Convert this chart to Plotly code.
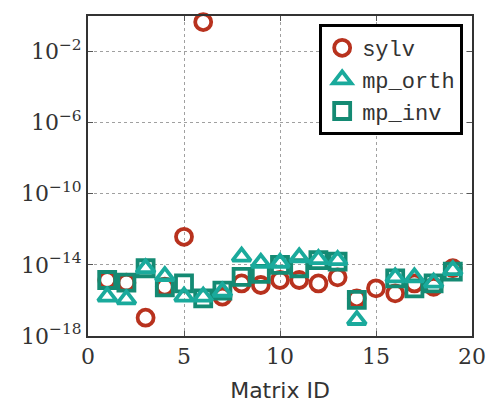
import plotly.graph_objects as go

# Matrix IDs and residual errors (log10 values) per method
matrix_id = list(range(1, 20))
ids_no15 = [i for i in matrix_id if i != 15]

sylv_log = [-14.85, -15.0, -16.97, -15.23, -12.42, -0.34, -15.79, -15.04, -15.13,
            -14.85, -14.85, -15.04, -14.70, -15.88, -15.32, -15.6, -15.04, -15.23, -14.19]
mp_orth_log = [-15.79, -15.94, -14.19, -14.63, -15.79, -15.79, -15.51, -13.54, -13.88,
               -13.88, -13.57, -13.68, -13.73, -17.1, -14.70, -14.70, -15.0, -14.29]
mp_inv_log = [-14.85, -15.0, -14.19, -15.27, -15.04, -15.88, -15.45, -14.67, -14.51,
              -14.0, -14.19, -13.73, -13.82, -15.97, -14.76, -15.32, -15.04, -14.38]

sylv = [10 ** v for v in sylv_log]
mp_orth = [10 ** v for v in mp_orth_log]
mp_inv = [10 ** v for v in mp_inv_log]

y_tick_exp = [-18, -14, -10, -6, -2]
x_ticks = [0, 5, 10, 15, 20]

RED = "#B8321E"
TEAL = "#1AAA9C"
GREEN = "#148A73"

fig = go.Figure()
fig.add_trace(go.Scatter(
    x=matrix_id, y=sylv, mode="markers", name="sylv", legendrank=1,
    cliponaxis=False,
    marker=dict(symbol="circle-open", size=16, color=RED, line=dict(width=3.8, color=RED)),
))
fig.add_trace(go.Scatter(
    x=ids_no15, y=mp_inv, mode="markers", name="mp_inv", legendrank=3,
    cliponaxis=False,
    marker=dict(symbol="square-open", size=16, color=GREEN, line=dict(width=3.8, color=GREEN)),
))
fig.add_trace(go.Scatter(
    x=ids_no15, y=mp_orth, mode="markers", name="mp_orth", legendrank=2,
    cliponaxis=False,
    marker=dict(symbol="triangle-up-open", size=16, color=TEAL, line=dict(width=3.8, color=TEAL)),
))

axis_common = dict(
    showline=True, linecolor="#333333", linewidth=2, mirror="ticks",
    ticks="inside", ticklen=5, tickcolor="#555555", tickwidth=1,
    showgrid=True, gridcolor="#a0a0a0", griddash="dot", gridwidth=1.3,
    zeroline=False, automargin=False,
    tickfont=dict(family="DejaVu Serif", size=22, color="#333333"),
)

fig.update_xaxes(
    range=[0, 20], tickvals=x_ticks, ticktext=[str(t) for t in x_ticks],
    title=dict(text="Matrix ID", font=dict(family="DejaVu Sans", size=22, color="#333333"), standoff=14),
    **axis_common,
)
fig.update_yaxes(
    type="log", range=[-18, 0],
    tickvals=[10 ** e for e in y_tick_exp],
    ticktext=[f"10<sup>\u2212{abs(e)}</sup>" for e in y_tick_exp],
    **axis_common,
)

fig.update_layout(
    width=488, height=408,
    margin=dict(l=88, r=16, t=16, b=72),
    paper_bgcolor="white", plot_bgcolor="white",
    showlegend=True,
    legend=dict(
        x=0.977, y=0.975, xanchor="right", yanchor="top",
        bgcolor="white", bordercolor="black", borderwidth=3,
        font=dict(family="Liberation Mono", size=22, color="#333333"),
        itemsizing="trace", itemwidth=30, tracegroupgap=0,
    ),
)

fig.write_html("out.html")
